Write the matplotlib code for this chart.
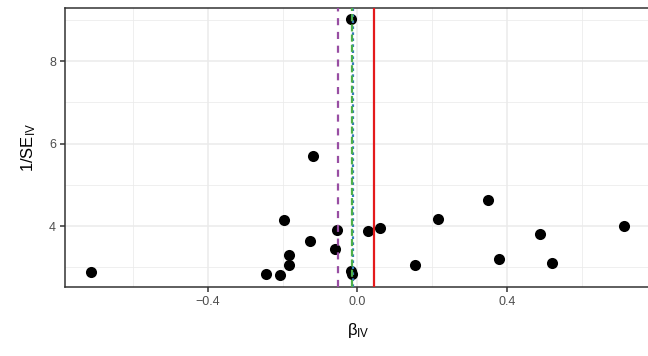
import numpy as np
import matplotlib
matplotlib.use("Agg")
import matplotlib.pyplot as plt

plt.rcParams['font.family'] = ['Liberation Sans', 'DejaVu Sans']
plt.rcParams['mathtext.fontset'] = 'custom'
plt.rcParams['mathtext.rm'] = 'Liberation Sans'
plt.rcParams['mathtext.it'] = 'Liberation Sans'

# estimated IV estimates and their precision (1/SE)
beta_iv = [-0.7125, -0.119, -0.196, -0.127, -0.184, -0.184, -0.243, -0.206,
           -0.017, 0.3505, 0.216, 0.028, 0.060, -0.054, -0.059, 0.714,
           0.488, 0.379, 0.520, 0.154, -0.018, -0.013]
inv_se = [2.885, 5.69, 4.153, 3.636, 3.29, 3.055, 2.836, 2.82,
          9.01, 4.63, 4.162, 3.886, 3.95, 3.895, 3.44, 4.0,
          3.80, 3.21, 3.095, 3.047, 2.917, 2.836]

# pooled estimates shown as vertical reference lines
est_red = 0.0447
est_purple = -0.0525
est_green = -0.015
est_blue = -0.0115

x_ticks = [-0.4, 0.0, 0.4]
x_minor = [-0.6, -0.2, 0.2, 0.6]
y_ticks = [4, 6, 8]
y_minor = [3, 5, 7, 9]

fig = plt.figure(figsize=(6.48, 3.56), dpi=100)
ax = fig.add_axes([0.1003, 0.1938, 0.904, 0.7837])

ax.set_xlim(-0.782, 0.785)
ax.set_ylim(2.521, 9.285)

ax.set_xticks(x_ticks)
ax.set_xticklabels(['\u22120.4', '0.0', '0.4'])
ax.set_xticks(x_minor, minor=True)
ax.set_yticks(y_ticks)
ax.set_yticks(y_minor, minor=True)

ax.grid(True, which='major', color='#EBEBEB', linewidth=1.1, zorder=0)
ax.grid(True, which='minor', color='#EBEBEB', linewidth=0.55, zorder=0)
ax.set_axisbelow(True)

ax.scatter(beta_iv, inv_se, s=64, color='black', linewidths=0, zorder=3)

ax.axvline(est_blue, color='#377EB8', linewidth=1.6, dashes=(1.2, 1.5), zorder=4)
ax.axvline(est_green, color='#4DAF4A', linewidth=1.6, dashes=(3.2, 1.4), zorder=5)
ax.axvline(est_purple, color='#984EA3', linewidth=1.6, dashes=(3.2, 3), zorder=5)
ax.axvline(est_red, color='#E41A1C', linewidth=1.6, zorder=5)

for s in ax.spines.values():
    s.set_color('#333333')
    s.set_linewidth(1.1)

ax.tick_params(which='major', length=3.5, width=1.1, color='#333333',
               labelsize=9, labelcolor='#4D4D4D', pad=3)
ax.tick_params(which='minor', length=0)

ax.set_xlabel('\u03b2$_{\\rm IV}$', fontsize=12, labelpad=9)
ax.set_ylabel('1/SE$_{\\rm IV}$', fontsize=12, labelpad=8)

fig.savefig('out.png', dpi=100)
